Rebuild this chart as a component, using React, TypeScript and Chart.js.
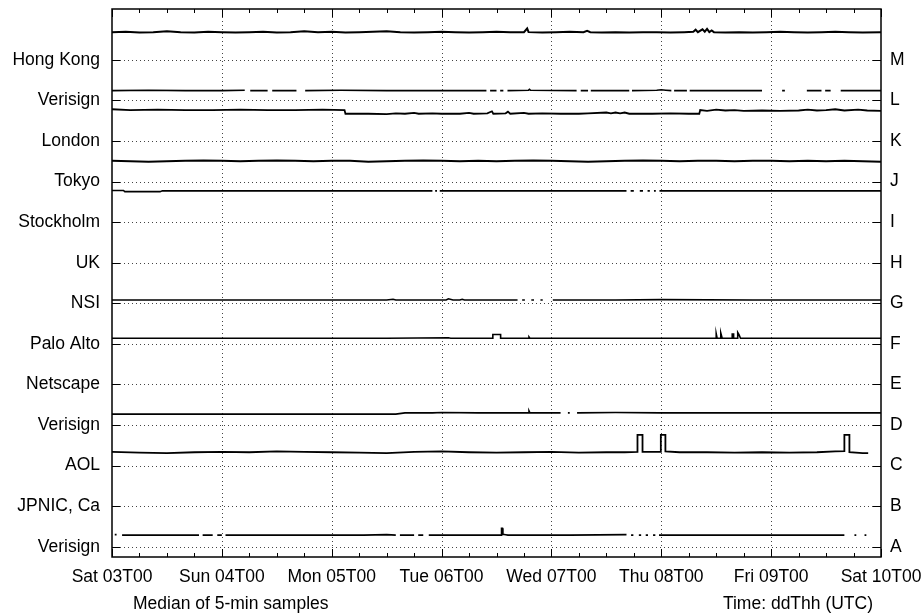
import React, { useEffect, useRef } from "react";
import { Chart, registerables } from "chart.js";

Chart.register(...registerables);

// ---------- data ----------
const X_TICK_LABELS = ["Sat 03T00", "Sun 04T00", "Mon 05T00", "Tue 06T00", "Wed 07T00", "Thu 08T00", "Fri 09T00", "Sat 10T00"];
const X_TICK_HOURS = [0, 24, 48, 72, 96, 120, 144, 168];
const X_MINOR_HOURS = [6, 12, 18, 30, 36, 42, 54, 60, 66, 78, 84, 90, 102, 108, 114, 126, 132, 138, 150, 156, 162];
const Y_TICKS = [1, 2, 3, 4, 5, 6, 7, 8, 9, 10, 11, 12, 13];
const LEFT_LABELS = ["Verisign", "JPNIC, Ca", "AOL", "Verisign", "Netscape", "Palo Alto", "NSI", "UK", "Stockholm", "Tokyo", "London", "Verisign", "Hong Kong"];
const RIGHT_LABELS = ["A", "B", "C", "D", "E", "F", "G", "H", "I", "J", "K", "L", "M"];
const X_TITLE_LEFT = "Median of 5-min samples";
const X_TITLE_RIGHT = "Time: ddThh (UTC)";

// [hour since Sat 03T00, plotted level]; null = no samples
const SERIES_M: [number, number | null][] = [
  [0, 13.68], [3, 13.69], [6, 13.67], [9, 13.68], [12, 13.7], [15, 13.68], [18, 13.67], [21, 13.69], [24, 13.68],
  [27, 13.67], [30, 13.68], [33, 13.69], [36, 13.67], [39, 13.68], [42, 13.7], [45, 13.68], [48, 13.69], [51, 13.67],
  [54, 13.68], [57, 13.69], [60, 13.7], [63, 13.68], [66, 13.67], [69, 13.68], [72, 13.69], [75, 13.68], [78, 13.67],
  [81, 13.68], [84, 13.69], [87, 13.68], [90, 13.68], [90.7, 13.77], [91, 13.68], [94, 13.67], [97, 13.68], [100, 13.69],
  [103, 13.68], [103.8, 13.71], [104.5, 13.68], [107, 13.67], [110, 13.68], [113, 13.67], [116, 13.68], [119, 13.68],
  [122, 13.67], [125, 13.68], [127, 13.69], [127.5, 13.74], [128, 13.68], [129, 13.75], [129.5, 13.69], [130, 13.76],
  [130.5, 13.68], [131, 13.72], [131.5, 13.68], [134, 13.67], [137, 13.68], [140, 13.67], [143, 13.68], [146, 13.69],
  [149, 13.68], [152, 13.67], [155, 13.68], [158, 13.69], [161, 13.68], [164, 13.67], [168, 13.68],
];
const SERIES_L: [number, number | null][] = [
  [0, 12.24], [8, 12.25], [16, 12.24], [24, 12.24], [29, 12.25], [29.6, null], [30.2, 12.24], [34, 12.24], [34.4, null],
  [35, 12.24], [40.3, 12.24], [40.4, null], [42.2, 12.24], [50, 12.25], [60, 12.24], [70, 12.24], [81.8, 12.24],
  [82, null], [82.6, 12.24], [84, 12.24], [84.2, null], [84.8, 12.24], [85.5, 12.24], [85.6, null], [86.4, 12.24],
  [91, 12.25], [91.2, 12.27], [91.4, 12.25], [101.5, 12.24], [101.6, null], [102.4, 12.24], [104, 12.24], [104.1, null],
  [104.6, 12.24], [113, 12.24], [113.2, null], [113.6, 12.24], [119, 12.25], [120, 12.26], [121, 12.25], [122.2, 12.24],
  [122.4, null], [122.8, 12.24], [125.6, 12.24], [125.8, null], [126.2, 12.24], [142, 12.24], [142.2, null], [146.4, 12.24],
  [147, 12.24], [147.1, null], [151.8, 12.24], [155, 12.24], [155.2, null], [155.8, 12.24], [157, 12.24], [157.1, null],
  [159.2, 12.24], [168, 12.24],
];
const SERIES_K: [number, number | null][] = [
  [0, 11.78], [4, 11.76], [10, 11.77], [16, 11.76], [22, 11.76], [28, 11.77], [34, 11.76], [40, 11.76], [46, 11.77],
  [50.8, 11.76], [51, 11.67], [56, 11.67], [60, 11.66], [62, 11.68], [64, 11.67], [66, 11.69], [67, 11.67], [70, 11.68],
  [72, 11.67], [76, 11.67], [78, 11.69], [79, 11.67], [82, 11.68], [83, 11.73], [83.3, 11.67], [86, 11.68], [86.5, 11.72],
  [87, 11.67], [90, 11.69], [91, 11.67], [94, 11.68], [98, 11.67], [102, 11.67], [104, 11.68], [108, 11.7], [109, 11.68],
  [110, 11.7], [111, 11.68], [112, 11.7], [113, 11.67], [118, 11.67], [122, 11.68], [126, 11.67], [128.3, 11.67],
  [128.5, 11.76], [130, 11.74], [132, 11.77], [134, 11.75], [136, 11.76], [138, 11.74], [142, 11.75], [146, 11.74],
  [150, 11.75], [152, 11.77], [154, 11.75], [156, 11.76], [158, 11.78], [160, 11.75], [163, 11.77], [165, 11.75], [168, 11.74],
];
const SERIES_J: [number, number | null][] = [
  [0, 10.51], [4, 10.5], [8, 10.49], [12, 10.5], [16, 10.51], [20, 10.52], [24, 10.51], [28, 10.5], [32, 10.51],
  [36, 10.52], [40, 10.51], [44, 10.5], [48, 10.51], [52, 10.51], [56, 10.49], [60, 10.5], [64, 10.51], [68, 10.52],
  [72, 10.51], [76, 10.5], [80, 10.51], [84, 10.5], [88, 10.51], [92, 10.52], [96, 10.51], [100, 10.5], [104, 10.49],
  [108, 10.5], [112, 10.51], [116, 10.52], [120, 10.51], [124, 10.5], [128, 10.51], [132, 10.51], [136, 10.5],
  [140, 10.51], [144, 10.51], [148, 10.5], [152, 10.51], [156, 10.5], [160, 10.51], [164, 10.5], [168, 10.49],
];
const SERIES_I: [number, number | null][] = [
  [0, 9.78], [2.5, 9.78], [2.8, 9.75], [10.5, 9.75], [11, 9.77], [20, 9.77], [30, 9.77], [40, 9.77], [50, 9.77],
  [60, 9.77], [70, 9.77], [70.1, null], [70.6, 9.77], [71, 9.77], [71.1, null], [71.6, 9.77], [80, 9.77], [90, 9.77],
  [100, 9.77], [112.4, 9.77], [112.5, null], [113.3, 9.77], [114, 9.77], [114.1, null], [115.3, 9.77], [116, 9.77],
  [116.1, null], [117, 9.77], [117.5, 9.77], [117.6, null], [118.4, 9.77], [118.8, 9.77], [118.9, null], [119.6, 9.77],
  [130, 9.77], [140, 9.77], [150, 9.77], [160, 9.77], [168, 9.77],
];
const SERIES_G: [number, number | null][] = [
  [0, 7.08], [20, 7.08], [40, 7.08], [60, 7.08], [61.4, 7.1], [62, 7.08], [73, 7.08], [73.5, 7.11], [74.5, 7.08],
  [76, 7.08], [76.5, 7.1], [77, 7.08], [88.6, 7.08], [88.7, null], [89.6, 7.08], [90.2, 7.08], [90.3, null], [91.6, 7.08],
  [92.2, 7.08], [92.3, null], [93.6, 7.08], [94.1, 7.08], [94.2, null], [96.3, 7.08], [97.4, 7.08], [110, 7.08], [120, 7.09],
  [140, 7.08], [168, 7.08],
];
const SERIES_F: [number, number | null][] = [
  [0, 6.14], [40, 6.14], [60, 6.14], [73.5, 6.15], [74, 6.14], [83.2, 6.14], [83.2, 6.23], [84.9, 6.23], [84.9, 6.14],
  [91, 6.14], [91.1, 6.17], [91.3, 6.14], [120, 6.14], [132, 6.14], [132, 6.25], [132.2, 6.14], [133, 6.14], [133, 6.27],
  [133.3, 6.14], [135.5, 6.14], [135.5, 6.24], [135.8, 6.24], [135.8, 6.14], [136.6, 6.14], [136.7, 6.28], [137, 6.22],
  [137.3, 6.14], [168, 6.14],
];
const SERIES_D: [number, number | null][] = [
  [0, 4.27], [20, 4.27], [40, 4.27], [62, 4.27], [64, 4.3], [70, 4.3], [72, 4.31], [80, 4.3], [88, 4.3], [91, 4.3],
  [91.1, 4.35], [91.3, 4.3], [98, 4.3], [98.1, null], [99.6, 4.3], [100, 4.3], [100.1, null], [101.6, 4.3], [110, 4.31],
  [120, 4.3], [130, 4.3], [140, 4.3], [150, 4.3], [160, 4.3], [168, 4.3],
];
const SERIES_C: [number, number | null][] = [
  [0, 3.34], [6, 3.32], [12, 3.31], [18, 3.33], [24, 3.34], [30, 3.33], [36, 3.35], [42, 3.34], [48, 3.33], [54, 3.32],
  [60, 3.31], [66, 3.34], [72, 3.35], [78, 3.33], [84, 3.32], [90, 3.33], [96, 3.34], [102, 3.32], [108, 3.33],
  [112, 3.33], [114.8, 3.34], [114.8, 3.76], [115.9, 3.76], [115.9, 3.34], [119.9, 3.34], [119.9, 3.76], [120.9, 3.76],
  [120.9, 3.35], [124, 3.33], [130, 3.33], [136, 3.32], [142, 3.33], [148, 3.32], [154, 3.33], [158, 3.35], [160, 3.36],
  [160, 3.76], [161.1, 3.76], [161.1, 3.33], [164, 3.31], [165.2, 3.31],
];
const SERIES_A: [number, number | null][] = [
  [0.6, 1.3], [1, 1.3], [1.1, null], [2.2, 1.29], [19, 1.29], [19.1, null], [19.8, 1.29], [22, 1.29], [22.1, null],
  [23, 1.29], [24, 1.29], [24.1, null], [24.8, 1.29], [40, 1.29], [55, 1.29], [60, 1.3], [62, 1.29], [62.1, null],
  [62.9, 1.29], [66, 1.29], [66.1, null], [66.9, 1.29], [68, 1.29], [68.1, null], [69.2, 1.29], [85.1, 1.29],
  [85.1, 1.46], [85.3, 1.46], [85.4, 1.31], [86, 1.3], [86.5, 1.29], [100, 1.29], [112.4, 1.3], [112.5, null],
  [113.4, 1.29], [113.9, 1.29], [114, null], [115.1, 1.29], [115.6, 1.29], [115.7, null], [116.6, 1.29], [117.1, 1.29],
  [117.2, null], [118.2, 1.29], [118.7, 1.29], [118.8, null], [119.5, 1.29], [130, 1.29], [140, 1.29], [150, 1.29],
  [160, 1.29], [160.2, null], [162.2, 1.29], [162.6, 1.29], [162.7, null], [164.4, 1.29], [164.8, 1.29], [164.9, null],
];

const ALL_SERIES = [SERIES_M, SERIES_L, SERIES_K, SERIES_J, SERIES_I, SERIES_G, SERIES_F, SERIES_D, SERIES_C, SERIES_A];
const SERIES_WIDTHS = [2, 1.6, 1.8, 2, 1.6, 1.6, 1.6, 1.6, 1.8, 1.6];

// ---------- style ----------
const FONT_FAMILY = "'Liberation Sans', Arial, Helvetica, sans-serif";
const FONT_SIZE = 17.5;
const W = 924;
const H = 613;

const framePlugin = {
  id: "gnuplotFrame",
  beforeDatasetsDraw(chart: any) {
    const { ctx, chartArea: a, scales } = chart;
    ctx.save();
    ctx.strokeStyle = "#444";
    ctx.lineWidth = 1;
    ctx.setLineDash([1, 3]);
    for (const v of Y_TICKS) {
      const y = Math.round(scales.y.getPixelForValue(v)) + 0.5;
      ctx.beginPath();
      ctx.moveTo(a.left, y);
      ctx.lineTo(a.right, y);
      ctx.stroke();
    }
    for (const h of X_TICK_HOURS.slice(1, -1)) {
      const x = Math.round(scales.x.getPixelForValue(h)) + 0.5;
      ctx.beginPath();
      ctx.moveTo(x, a.top);
      ctx.lineTo(x, a.bottom);
      ctx.stroke();
    }
    ctx.restore();
  },
  afterDatasetsDraw(chart: any) {
    const { ctx, chartArea: a, scales } = chart;
    ctx.save();
    ctx.setLineDash([]);
    ctx.strokeStyle = "#000";
    ctx.lineWidth = 1;
    const line = (x1: number, y1: number, x2: number, y2: number) => {
      ctx.beginPath();
      ctx.moveTo(x1, y1);
      ctx.lineTo(x2, y2);
      ctx.stroke();
    };
    for (const v of Y_TICKS) {
      const y = Math.round(scales.y.getPixelForValue(v)) + 0.5;
      line(a.left, y, a.left + 8, y);
      line(a.right - 8, y, a.right, y);
    }
    for (const h of X_TICK_HOURS) {
      const x = Math.round(scales.x.getPixelForValue(h)) + 0.5;
      line(x, a.bottom, x, a.bottom - 8);
      line(x, a.top, x, a.top + 8);
    }
    for (const h of X_MINOR_HOURS) {
      const x = Math.round(scales.x.getPixelForValue(h)) + 0.5;
      line(x, a.bottom, x, a.bottom - 4);
      line(x, a.top, x, a.top + 4);
    }
    ctx.lineWidth = 1.5;
    ctx.strokeRect(a.left, a.top, a.right - a.left, a.bottom - a.top);
    ctx.fillStyle = "#000";
    ctx.font = `${FONT_SIZE}px ${FONT_FAMILY}`;
    ctx.textBaseline = "alphabetic";
    ctx.textAlign = "left";
    ctx.fillText(X_TITLE_LEFT, a.left + 21, a.bottom + 52);
    ctx.textAlign = "right";
    ctx.fillText(X_TITLE_RIGHT, a.right - 8, a.bottom + 52);
    ctx.restore();
  },
};

export default function App() {
  const ref = useRef<HTMLCanvasElement | null>(null);
  useEffect(() => {
    if (!ref.current) return;
    const font = { family: FONT_FAMILY, size: FONT_SIZE };
    const setYTicks = (scale: any) => {
      scale.ticks = Y_TICKS.map((v) => ({ value: v }));
    };
    const chart = new Chart(ref.current, {
      type: "line",
      data: {
        datasets: ALL_SERIES.map((s, i) => ({
          data: s.map(([x, y]) => ({ x, y })),
          borderColor: "#000",
          borderWidth: SERIES_WIDTHS[i],
          pointRadius: 0,
          tension: 0,
          spanGaps: false,
          fill: false,
        })),
      },
      options: {
        animation: false,
        responsive: false,
        devicePixelRatio: 1,
        layout: { padding: { top: 9, left: 0, right: 0, bottom: 0 } },
        plugins: { legend: { display: false }, tooltip: { enabled: false }, title: { display: false } },
        scales: {
          x: {
            type: "linear",
            min: 0,
            max: 168,
            position: "bottom",
            grid: { display: false, drawTicks: false },
            border: { display: false },
            afterBuildTicks: (scale: any) => {
              scale.ticks = X_TICK_HOURS.map((v) => ({ value: v }));
            },
            afterFit: (scale: any) => {
              scale.height = 56;
              scale.paddingLeft = 0;
              scale.paddingRight = 0;
            },
            ticks: {
              autoSkip: false,
              maxRotation: 0,
              minRotation: 0,
              padding: 10,
              color: "#000",
              font,
              callback: (_v: any, i: number) => X_TICK_LABELS[i],
            },
          },
          y: {
            type: "linear",
            min: 0.75,
            max: 14.25,
            position: "left",
            grid: { display: false, drawTicks: false },
            border: { display: false },
            afterBuildTicks: setYTicks,
            afterFit: (scale: any) => {
              scale.width = 112;
              scale.paddingTop = 0;
              scale.paddingBottom = 0;
            },
            ticks: {
              autoSkip: false,
              padding: 12,
              color: "#000",
              font,
              callback: (_v: any, i: number) => LEFT_LABELS[i],
            },
          },
          y2: {
            type: "linear",
            min: 0.75,
            max: 14.25,
            position: "right",
            grid: { display: false, drawTicks: false },
            border: { display: false },
            afterBuildTicks: setYTicks,
            afterFit: (scale: any) => {
              scale.width = 43;
              scale.paddingTop = 0;
              scale.paddingBottom = 0;
            },
            ticks: {
              autoSkip: false,
              padding: 9,
              color: "#000",
              font,
              callback: (_v: any, i: number) => RIGHT_LABELS[i],
            },
          },
        },
      },
      plugins: [framePlugin],
    } as any);
    return () => chart.destroy();
  }, []);
  return (
    <div style={{ position: "absolute", left: 0, top: 0, width: W, height: H, background: "#fff" }}>
      <canvas ref={ref} width={W} height={H} style={{ display: "block", width: W, height: H }} />
    </div>
  );
}
